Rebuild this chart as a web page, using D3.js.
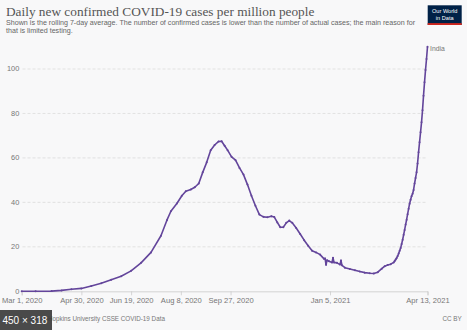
<!DOCTYPE html>
<html>
<head>
<meta charset="utf-8">
<script src="https://cdn.jsdelivr.net/npm/d3@7"></script>
<style>
  html, body { margin: 0; padding: 0; background: #f8f8f9; }
  svg { display: block; }
</style>
</head>
<body>
<svg id="chart" width="467" height="330"></svg>
<script>
// India, daily new confirmed cases per million (7-day rolling average)
const dates = [
  "2020-03-01", "2020-03-15", "2020-03-31", "2020-04-10", "2020-04-20", "2020-04-30",
  "2020-05-10", "2020-05-20", "2020-05-30", "2020-06-09", "2020-06-19", "2020-06-29",
  "2020-07-09", "2020-07-19", "2020-07-25", "2020-07-29", "2020-08-04", "2020-08-09",
  "2020-08-13", "2020-08-18", "2020-08-22", "2020-08-26", "2020-08-30", "2020-09-03",
  "2020-09-07", "2020-09-11", "2020-09-15", "2020-09-18", "2020-09-21", "2020-09-24",
  "2020-09-28", "2020-10-02", "2020-10-06", "2020-10-10", "2020-10-14", "2020-10-18",
  "2020-10-22", "2020-10-26", "2020-10-30", "2020-11-03", "2020-11-07", "2020-11-10",
  "2020-11-13", "2020-11-16", "2020-11-19", "2020-11-22", "2020-11-25", "2020-11-28",
  "2020-12-02", "2020-12-06", "2020-12-10", "2020-12-14", "2020-12-18", "2020-12-22",
  "2020-12-26", "2020-12-30", "2020-12-31", "2021-01-01", "2021-01-02", "2021-01-04",
  "2021-01-07", "2021-01-08", "2021-01-09", "2021-01-12", "2021-01-15", "2021-01-16",
  "2021-01-17", "2021-01-20", "2021-01-25", "2021-01-30", "2021-02-04", "2021-02-09",
  "2021-02-14", "2021-02-18", "2021-02-22", "2021-02-26", "2021-03-01", "2021-03-04",
  "2021-03-07", "2021-03-10", "2021-03-11", "2021-03-12", "2021-03-13", "2021-03-14",
  "2021-03-15", "2021-03-16", "2021-03-17", "2021-03-18", "2021-03-19", "2021-03-20",
  "2021-03-21", "2021-03-22", "2021-03-23", "2021-03-24", "2021-03-25", "2021-03-26",
  "2021-03-27", "2021-03-28", "2021-03-29", "2021-03-30", "2021-03-31", "2021-04-01",
  "2021-04-02", "2021-04-03", "2021-04-04", "2021-04-05", "2021-04-06", "2021-04-07",
  "2021-04-08", "2021-04-09", "2021-04-10", "2021-04-11", "2021-04-12", "2021-04-13"
];
const cases = [
  0.0, 0.01, 0.1, 0.4, 0.9, 1.3,
  2.4, 3.6, 5.2, 6.8, 9.2, 12.8,
  17.5, 25.0, 32.0, 36.0, 39.5, 43.0,
  45.0, 45.8, 46.8, 48.5, 53.5, 58.0,
  63.5, 65.8, 67.4, 67.5, 65.5, 63.5,
  60.5, 59.0, 55.5, 52.5, 48.0, 43.0,
  38.5, 34.5, 33.5, 33.3, 33.8, 33.4,
  31.0, 28.8, 28.8, 30.8, 31.8, 30.8,
  28.5, 25.8, 23.0, 20.5, 18.2, 17.5,
  16.5, 14.6, 14.8, 11.9, 14.0, 13.5,
  13.0, 15.1, 13.0, 12.8, 12.0, 13.9,
  11.7, 10.6, 10.0, 9.5, 8.9, 8.4,
  8.1, 8.0, 8.6, 10.2, 11.3, 11.8,
  12.2, 13.0, 13.6, 14.3, 15.0, 15.9,
  17.0, 18.2, 19.5, 21.3, 23.2, 25.4,
  27.6, 30.0, 32.2, 34.7, 37.1, 39.4,
  41.2, 42.8, 43.9, 45.6, 48.5, 51.0,
  53.5, 57.5, 62.5, 67.0, 71.5, 76.0,
  81.5, 88.0, 94.0, 99.5, 104.5, 110.0
];

const yTicks = [0, 20, 40, 60, 80, 100];
const xTicks = ["2020-03-01", "2020-04-30", "2020-06-19", "2020-08-08", "2020-09-27", "2021-01-05", "2021-04-13"];

const parseDate = d3.timeParse("%Y-%m-%d");
const fmt = d3.timeFormat("%b %-d, %Y");
const data = dates.map((d, i) => ({ date: parseDate(d), value: cases[i] }));

const svg = d3.select("#chart");
const lineColor = "#63459b";
const sans = "Liberation Sans, Arial, sans-serif";

const x = d3.scaleTime()
  .domain([parseDate("2020-03-01"), parseDate("2021-04-13")])
  .range([21.7, 427.5]);
const y = d3.scaleLinear()
  .domain([0, 100])
  .range([291.3, 69]);

// header
svg.append("text")
  .attr("x", 6).attr("y", 15.5)
  .attr("font-family", "Liberation Serif, serif")
  .attr("font-size", 13.3)
  .attr("fill", "#555")
  .text("Daily new confirmed COVID-19 cases per million people");

const subtitle = [
  "Shown is the rolling 7-day average. The number of confirmed cases is lower than the number of actual cases; the main reason for",
  "that is limited testing."
];
svg.selectAll(".sub")
  .data(subtitle)
  .join("text")
  .attr("class", "sub")
  .attr("x", 6)
  .attr("y", (d, i) => 24.5 + i * 8.8)
  .attr("font-family", sans)
  .attr("font-size", 7.15)
  .attr("fill", "#666")
  .text(d => d);

// logo
const logo = svg.append("g").attr("transform", "translate(427.7,5.3)");
logo.append("rect").attr("width", 34).attr("height", 19.7).attr("fill", "#002147");
logo.append("rect").attr("y", 17.8).attr("width", 34).attr("height", 1.9).attr("fill", "#ce261e");
logo.selectAll("text")
  .data(["Our World", "in Data"])
  .join("text")
  .attr("x", 17)
  .attr("y", (d, i) => 7.6 + i * 6.8)
  .attr("text-anchor", "middle")
  .attr("font-family", sans)
  .attr("font-size", 5.6)
  .attr("fill", "#fff")
  .text(d => d);

// grid + y labels
const grid = svg.append("g");
grid.selectAll("line")
  .data(yTicks.filter(t => t > 0))
  .join("line")
  .attr("x1", 22.5).attr("x2", 427.5)
  .attr("y1", d => y(d)).attr("y2", d => y(d))
  .attr("stroke", "#dcdcdc")
  .attr("stroke-width", 0.8)
  .attr("stroke-dasharray", "3,2");

grid.selectAll("text")
  .data(yTicks)
  .join("text")
  .attr("x", 19.3)
  .attr("y", d => y(d))
  .attr("dy", "0.33em")
  .attr("text-anchor", "end")
  .attr("font-family", sans)
  .attr("font-size", 7.4)
  .attr("fill", "#777")
  .text(d => d);

// x axis
const xAxis = svg.append("g")
  .attr("transform", `translate(0,${y(0)})`)
  .call(d3.axisBottom(x)
    .tickValues(xTicks.map(parseDate))
    .tickFormat(fmt)
    .tickSize(4)
    .tickPadding(2.5));
xAxis.select(".domain").attr("stroke", "#ccc").attr("stroke-width", 0.8);
xAxis.selectAll(".tick line").attr("stroke", "#ccc").attr("stroke-width", 0.8);
xAxis.selectAll(".tick text")
  .attr("font-family", sans)
  .attr("font-size", 7.6)
  .attr("fill", "#777");

// series
const line = d3.line()
  .x(d => x(d.date))
  .y(d => y(d.value));

svg.append("path")
  .datum(data)
  .attr("d", line)
  .attr("fill", "none")
  .attr("stroke", lineColor)
  .attr("stroke-width", 1.6)
  .attr("stroke-linejoin", "round");

svg.append("g")
  .selectAll("circle")
  .data(data)
  .join("circle")
  .attr("cx", d => x(d.date))
  .attr("cy", d => y(d.value))
  .attr("r", 1.0)
  .attr("fill", lineColor);

const last = data[data.length - 1];
svg.append("text")
  .attr("x", x(last.date) + 2.5)
  .attr("y", y(last.value) + 4.5)
  .attr("font-family", sans)
  .attr("font-size", 6.8)
  .attr("fill", "#777")
  .text("India");

// footer
svg.append("text")
  .attr("x", 6).attr("y", 321)
  .attr("font-family", sans)
  .attr("font-size", 6.3)
  .attr("fill", "#777")
  .text("Source: Johns Hopkins University CSSE COVID-19 Data");
svg.append("text")
  .attr("x", 461.7).attr("y", 321)
  .attr("text-anchor", "end")
  .attr("font-family", sans)
  .attr("font-size", 6.3)
  .attr("fill", "#777")
  .text("CC BY");

// size badge in the lower-left corner
const badge = svg.append("g").attr("transform", "translate(0,310)");
badge.append("rect").attr("width", 52).attr("height", 20).attr("fill", "#3b3b3b").attr("opacity", 0.92);
badge.append("text")
  .attr("x", 2.5).attr("y", 14.3)
  .attr("font-family", sans)
  .attr("font-size", 10)
  .attr("fill", "#fff")
  .text("450 × 318");
</script>
</body>
</html>
